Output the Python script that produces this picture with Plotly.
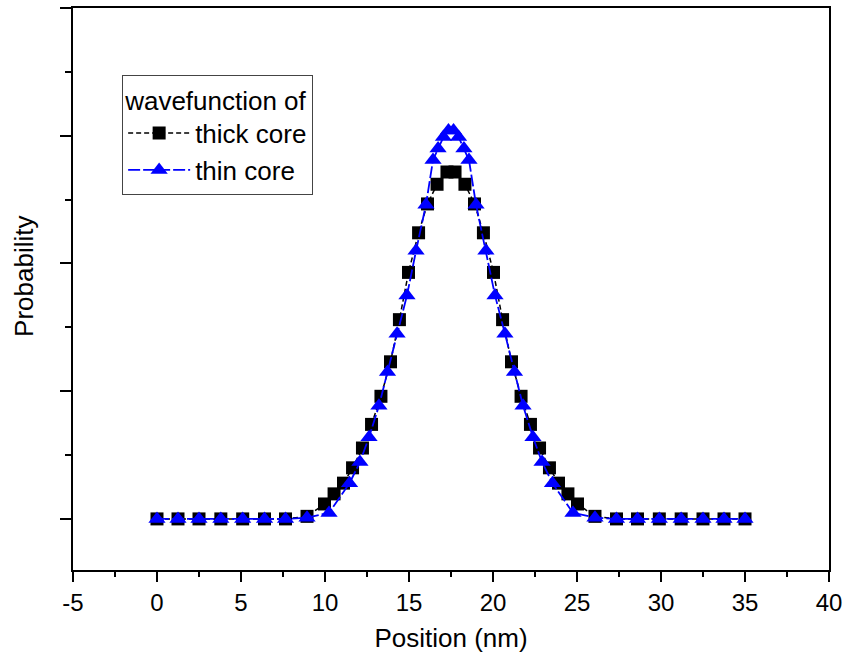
import plotly.graph_objects as go

# Position grid (nm) and probability for the thick-core wavefunction
thick_x = [0.0, 1.25, 2.5, 3.8, 5.1, 6.4, 7.65, 8.93,
           9.97, 10.54, 11.10, 11.64, 12.23, 12.77, 13.33, 13.90, 14.43,
           14.97, 15.57, 16.10, 16.67, 17.26, 17.74, 18.33, 18.90, 19.43,
           20.03, 20.57, 21.10, 21.67, 22.23, 22.77, 23.36, 23.90, 24.46,
           25.03, 26.07, 27.35, 28.6, 29.9, 31.2, 32.5, 33.75, 35.0]
thick_y = [0.0, 0.0, 0.0, 0.0, 0.0, 0.0, 0.0, 0.02,
           0.117, 0.196, 0.28, 0.40, 0.555, 0.74, 0.96, 1.23, 1.56,
           1.93, 2.24, 2.466, 2.62, 2.716, 2.716, 2.62, 2.466, 2.24,
           1.93, 1.56, 1.23, 0.96, 0.74, 0.555, 0.40, 0.28, 0.196,
           0.117, 0.02, 0.0, 0.0, 0.0, 0.0, 0.0, 0.0, 0.0]

# Position grid (nm) and probability for the thin-core wavefunction
thin_x = [0.0, 1.25, 2.5, 3.8, 5.1, 6.4, 7.65, 8.93,
          10.24, 11.46, 12.08, 12.62, 13.21, 13.72, 14.29, 14.88, 15.42,
          16.01, 16.43, 16.73, 17.05, 17.35, 17.65, 17.95, 18.27, 18.57,
          18.99, 19.58, 20.12, 20.71, 21.28, 21.79, 22.38, 22.92, 23.54,
          24.76, 26.07, 27.35, 28.6, 29.9, 31.2, 32.5, 33.75, 35.0]
thin_y = [0.0, 0.0, 0.0, 0.0, 0.0, 0.0, 0.0, 0.01,
          0.047, 0.28, 0.445, 0.64, 0.885, 1.15, 1.45, 1.75, 2.10,
          2.46, 2.81, 2.90, 2.99, 3.04, 3.04, 2.99, 2.90, 2.81,
          2.46, 2.10, 1.75, 1.45, 1.15, 0.885, 0.64, 0.445, 0.28,
          0.047, 0.01, 0.0, 0.0, 0.0, 0.0, 0.0, 0.0, 0.0]

series_names = ["thick core", "thin core"]
legend_heading = "wavefunction of"
x_title = "Position (nm)"
y_title = "Probability"
x_ticks = [-5, 0, 5, 10, 15, 20, 25, 30, 35, 40]

FONT = "Liberation Sans, Arial, sans-serif"

fig = go.Figure()
fig.add_trace(go.Scatter(
    x=thick_x, y=thick_y, name=series_names[0], mode="lines+markers",
    line=dict(color="black", width=1.5, dash="5px,3px"),
    marker=dict(symbol="square", size=13, color="black"),
))
fig.add_trace(go.Scatter(
    x=thin_x, y=thin_y, name=series_names[1], mode="lines+markers",
    line=dict(color="#0000ff", width=1.8, dash="12px,3px"),
    marker=dict(symbol="triangle-up", size=15, color="#0000ff"),
))

fig.update_layout(
    width=845, height=659,
    margin=dict(l=73, r=16, t=8, b=89, autoexpand=False),
    paper_bgcolor="white", plot_bgcolor="white",
    font=dict(family=FONT, size=24, color="black"),
    showlegend=True,
    legend=dict(
        title=dict(text=legend_heading, font=dict(size=26)),
        font=dict(size=26),
        x=0.065, y=0.881, xanchor="left", yanchor="top",
        bgcolor="white", bordercolor="#444", borderwidth=1,
        itemwidth=62, tracegroupgap=0,
    ),
    annotations=[dict(
        text=y_title, textangle=-90, showarrow=False,
        xref="paper", yref="paper", x=-0.065, y=0.523,
        xanchor="center", yanchor="middle", font=dict(size=26),
    )],
)

fig.update_xaxes(
    range=[-5, 40], tickvals=x_ticks, ticktext=[str(v) for v in x_ticks],
    automargin=False,
    showline=True, linecolor="black", linewidth=2, mirror=True,
    ticks="outside", ticklen=10, tickwidth=2, tickcolor="black",
    minor=dict(ticks="outside", dtick=2.5, tick0=0, ticklen=5,
               tickwidth=2, tickcolor="black"),
    showgrid=False, zeroline=False,
    tickfont=dict(size=24),
    title=dict(text=x_title, font=dict(size=26), standoff=14),
)
fig.update_yaxes(
    range=[-0.4, 4.0], tick0=0, dtick=1, showticklabels=False,
    automargin=False,
    showline=True, linecolor="black", linewidth=2, mirror=True,
    ticks="outside", ticklen=11, tickwidth=2, tickcolor="black",
    minor=dict(ticks="outside", dtick=0.5, tick0=0, ticklen=6,
               tickwidth=2, tickcolor="black"),
    showgrid=False, zeroline=False,
)

fig.write_html("out.html")
